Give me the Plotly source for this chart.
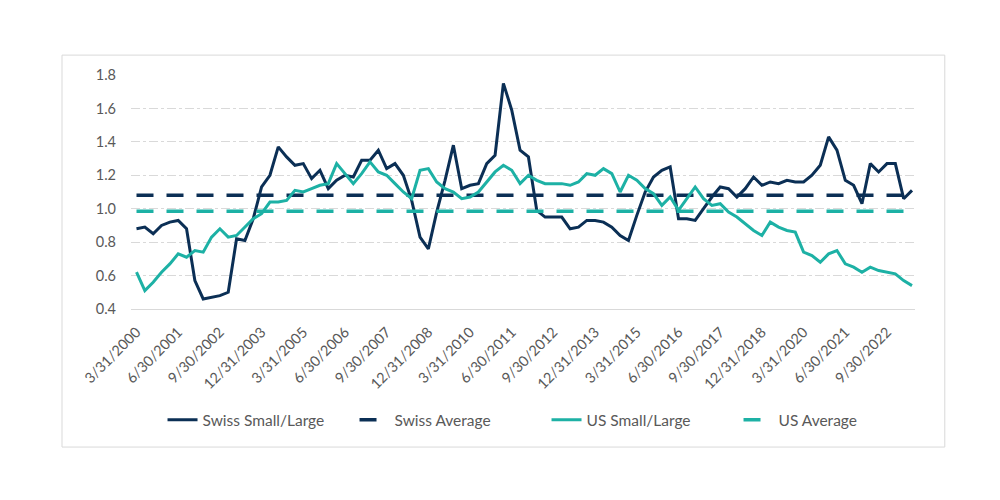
import plotly.graph_objects as go

# Quarter-end dates, 3/31/2000 .. 6/30/2023
quarter_ends = ["3/31", "6/30", "9/30", "12/31"]
dates = [f"{quarter_ends[q]}/{y}" for y in range(2000, 2024) for q in range(4)][:94]

swiss = [0.88, 0.89, 0.85, 0.90, 0.92, 0.93, 0.88, 0.57, 0.46, 0.47,
         0.48, 0.50, 0.82, 0.81, 0.94, 1.13, 1.20, 1.37, 1.31, 1.26,
         1.27, 1.18, 1.23, 1.12, 1.17, 1.20, 1.19, 1.29, 1.29, 1.35,
         1.24, 1.27, 1.20, 1.05, 0.83, 0.76, 0.98, 1.17, 1.38, 1.12,
         1.14, 1.15, 1.27, 1.32, 1.75, 1.59, 1.35, 1.31, 0.99, 0.95,
         0.95, 0.95, 0.88, 0.89, 0.93, 0.93, 0.92, 0.89, 0.84, 0.81,
         0.96, 1.10, 1.19, 1.23, 1.25, 0.94, 0.94, 0.93, 1.00, 1.07,
         1.13, 1.12, 1.07, 1.12, 1.19, 1.14, 1.16, 1.15, 1.17, 1.16,
         1.16, 1.20, 1.26, 1.43, 1.35, 1.17, 1.14, 1.03, 1.27, 1.22,
         1.27, 1.27, 1.06, 1.11]

us = [0.62, 0.51, 0.56, 0.62, 0.67, 0.73, 0.71, 0.75, 0.74, 0.83,
      0.88, 0.83, 0.84, 0.89, 0.94, 0.97, 1.04, 1.04, 1.05, 1.11,
      1.10, 1.12, 1.14, 1.15, 1.27, 1.21, 1.15, 1.21, 1.28, 1.22,
      1.20, 1.15, 1.10, 1.06, 1.23, 1.24, 1.16, 1.12, 1.10, 1.06,
      1.07, 1.10, 1.16, 1.22, 1.26, 1.23, 1.15, 1.20, 1.17, 1.15,
      1.15, 1.15, 1.14, 1.16, 1.21, 1.20, 1.24, 1.21, 1.10, 1.20,
      1.17, 1.12, 1.09, 1.02, 1.07, 0.99, 1.06, 1.13, 1.06, 1.02,
      1.03, 0.98, 0.95, 0.91, 0.87, 0.84, 0.92, 0.89, 0.87, 0.86,
      0.74, 0.72, 0.68, 0.73, 0.75, 0.67, 0.65, 0.62, 0.65, 0.63,
      0.62, 0.61, 0.57, 0.54]

swiss_avg = 1.08
us_avg = 0.985

tick_labels = dates[::5]
y_ticks = [0.4, 0.6, 0.8, 1.0, 1.2, 1.4, 1.6, 1.8]

NAVY = "#0B2F55"
TEAL = "#1DB1A5"
GRAY = "#595959"
FONT = "Lato, 'Open Sans', sans-serif"

fig = go.Figure()
fig.add_trace(go.Scatter(x=dates, y=swiss, name="Swiss Small/Large", mode="lines",
                         line=dict(color=NAVY, width=3)))
fig.add_trace(go.Scatter(x=dates, y=[swiss_avg] * len(dates), name="Swiss Average", mode="lines",
                         line=dict(color=NAVY, width=3.5, dash="17px,13px")))
fig.add_trace(go.Scatter(x=dates, y=us, name="US Small/Large", mode="lines",
                         line=dict(color=TEAL, width=3)))
fig.add_trace(go.Scatter(x=dates, y=[us_avg] * len(dates), name="US Average", mode="lines",
                         line=dict(color=TEAL, width=3.5, dash="17px,13px")))

fig.update_layout(
    width=984, height=484,
    margin=dict(l=123, r=77, t=67, b=183),
    paper_bgcolor="white", plot_bgcolor="white",
    font=dict(family=FONT, color=GRAY, size=14),
    showlegend=True,
    legend=dict(orientation="h", x=0.53, xanchor="center",
                y=-0.475, yanchor="middle",
                font=dict(size=15.5, color=GRAY), entrywidth=147, traceorder="normal"),
    xaxis=dict(type="category", range=[-0.66, 93.36], tickmode="array",
               tickvals=tick_labels, ticktext=tick_labels, tickangle=-45,
               showgrid=False, showline=True, linecolor="#D9D9D9", linewidth=1,
               ticks="", ticklabelstandoff=8, tickfont=dict(size=14.5, color=GRAY)),
    yaxis=dict(range=[0.4, 1.8], tickmode="array", tickvals=y_ticks,
               ticktext=[f"{v:.1f}" for v in y_ticks],
               showgrid=True, gridcolor="#D9D9D9", griddash="dashdot", gridwidth=1,
               zeroline=False, showline=False, ticks="", ticklabelstandoff=14,
               tickfont=dict(size=14.5, color=GRAY)),
    shapes=[dict(type="rect", xref="paper", yref="paper",
                 x0=-0.088, x1=1.038, y0=-0.59, y1=1.085,
                 line=dict(color="#D9D9D9", width=1), fillcolor="rgba(0,0,0,0)",
                 layer="below")],
)

fig.write_html("out.html")
